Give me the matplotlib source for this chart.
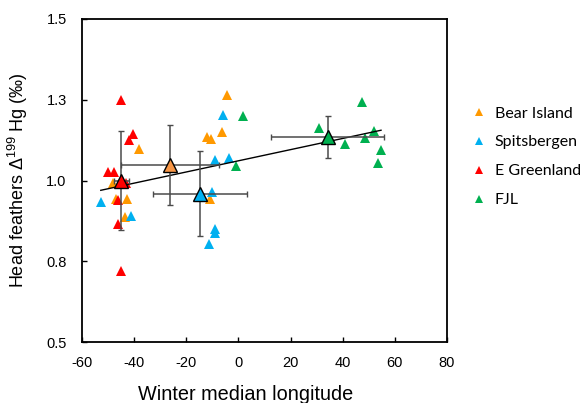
import numpy as np
import matplotlib
matplotlib.use("Agg")
import matplotlib.pyplot as plt

plt.rcParams['font.family'] = ['Liberation Sans', 'DejaVu Sans']
plt.rcParams['mathtext.fontset'] = 'custom'
plt.rcParams['mathtext.rm'] = 'Liberation Sans'
plt.rcParams['mathtext.it'] = 'Liberation Sans'

# ---- data ----
groups = ["Bear Island", "Spitsbergen", "E Greenland", "FJL"]
colors = ["#FF9900", "#00B0F0", "#FF0000", "#00B050"]
mean_colors = ["#F79646", "#00B0F0", "#FF0000", "#00B050"]

bear_x = [-4.4, -12.2, -10.6, -6.2, -38.0, -48.0, -47.0, -42.6, -43.5, -10.8]
bear_y = [1.265, 1.136, 1.128, 1.151, 1.097, 0.991, 0.943, 0.943, 0.888, 0.943]

spits_x = [-5.8, -9.1, -3.6, -10.3, -52.8, -41.3, -8.9, -8.9, -11.2]
spits_y = [1.203, 1.063, 1.069, 0.965, 0.934, 0.891, 0.850, 0.837, 0.802]

egreen_x = [-45.2, -40.3, -41.9, -49.9, -47.6, -43.2, -46.3, -46.3, -45.2]
egreen_y = [1.249, 1.144, 1.125, 1.025, 1.027, 0.991, 0.940, 0.865, 0.720]

fjl_x = [1.9, -1.0, 47.5, 31.0, 40.9, 48.4, 51.9, 54.7, 53.4]
fjl_y = [1.200, 1.045, 1.244, 1.163, 1.112, 1.131, 1.154, 1.094, 1.055]

# group means with error bars (order: Bear, Spits, E Greenland, FJL)
mean_x = [-26.3, -14.7, -45.0, 34.2]
mean_y = [1.049, 0.959, 1.000, 1.135]
mean_xerr = [18.7, 17.9, 2.9, 21.8]
mean_yerr = [0.124, 0.131, 0.152, 0.066]

# trend line (fitted across all individuals)
trend_slope = 0.00173
trend_intercept = 1.061

xticks = [-60, -40, -20, 0, 20, 40, 60, 80]
yticks = [0.5, 0.75, 1.0, 1.25, 1.5]
ytick_labels = ["0.5", "0.8", "1.0", "1.3", "1.5"]

# ---- figure ----
fig = plt.figure(figsize=(5.87, 4.03), dpi=100)
ax = fig.add_axes([82/587, 1 - 342/403, (447-82)/587, (342-19)/403])

xs_all = [bear_x, spits_x, egreen_x, fjl_x]
ys_all = [bear_y, spits_y, egreen_y, fjl_y]

handles = []
for gx, gy, c, lab in zip(xs_all, ys_all, colors, groups):
    h, = ax.plot(gx, gy, linestyle='none', marker='^', markersize=7.5,
                 color=c, markeredgewidth=0, label=lab, zorder=3)
    handles.append(h)

# trend line
allx = np.concatenate([np.array(v) for v in xs_all])
lx = np.array([allx.min(), allx.max()])
ax.plot(lx, trend_intercept + trend_slope * lx, color='black', lw=1.0, zorder=4)

# mean markers with error bars
for i in range(4):
    ax.errorbar(mean_x[i], mean_y[i], xerr=mean_xerr[i], yerr=mean_yerr[i],
                fmt='none', ecolor='#4a4a4a', elinewidth=1.1, capsize=2.5,
                capthick=1.0, zorder=5)
    ax.plot(mean_x[i], mean_y[i], linestyle='none', marker='^', markersize=10,
            markerfacecolor=mean_colors[i], markeredgecolor='black',
            markeredgewidth=1.0, zorder=6)

ax.set_xlim(-60, 80)
ax.set_ylim(0.5, 1.5)
ax.set_xticks(xticks)
ax.set_xticklabels([str(v) for v in xticks])
ax.set_yticks(yticks)
ax.set_yticklabels(ytick_labels)
ax.tick_params(direction='in', length=3.6, width=1.0, labelsize=10.5)
ax.tick_params(axis='y', pad=11)
ax.tick_params(axis='x', pad=10)
for s in ax.spines.values():
    s.set_linewidth(1.3)
    s.set_color('black')

ax.set_xlabel("Winter median longitude", fontsize=14.3)
ax.xaxis.set_label_coords(0.449, -0.132)
ax.set_ylabel("Head feathers Δ$^{\\mathregular{199}}$ Hg (‰)", fontsize=13)
ax.yaxis.set_label_coords(-0.143, 0.5)

leg = fig.legend(handles=handles, loc='upper left',
                 bbox_to_anchor=(466/587, 1 - 100/403), frameon=False,
                 prop={'family': ['Lato', 'DejaVu Sans'], 'size': 11.5},
                 handlelength=0.8, handletextpad=0.6, labelspacing=0.92,
                 markerscale=0.85, borderaxespad=0)

fig.savefig("out.png", dpi=100)
